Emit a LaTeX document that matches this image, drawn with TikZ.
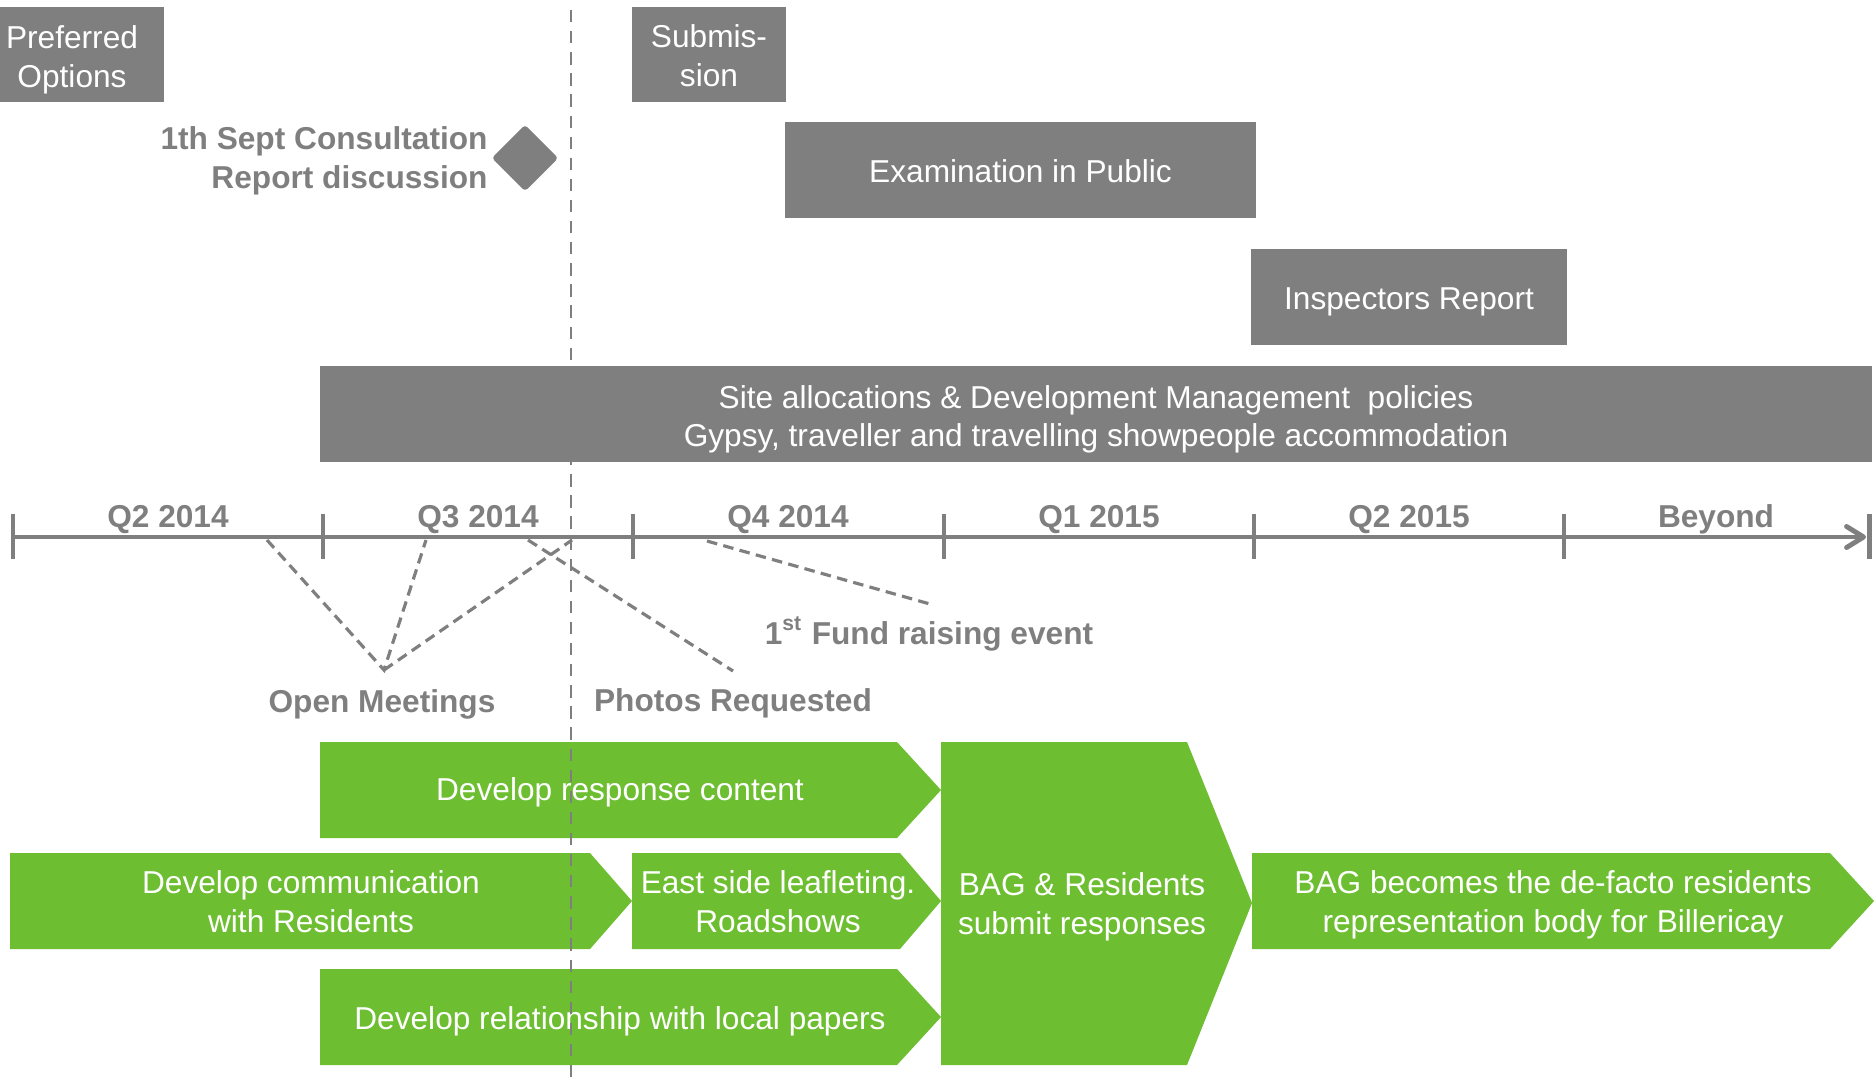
\documentclass[tikz,border=0pt]{standalone}
\usepackage{fontspec}
\setmainfont{Liberation Sans}
\usetikzlibrary{arrows.meta}
\usetikzlibrary{shapes.geometric}

\definecolor{slate}{HTML}{7F7F7F}
\definecolor{leaf}{HTML}{6DBE31}

\begin{document}
\begin{tikzpicture}[x = 0.01cm, y = -0.01cm,
  greybox/.style = {fill = slate, inner sep = 0pt, minimum height = 0.95cm},
  boxtext/.style = {text = white, align = center, font = \fontsize{9}{11}\selectfont},
  greenbar/.style = {fill = leaf},
  greentext/.style = {text = white, align = center, font = \fontsize{9}{11}\selectfont},
  note/.style = {text = slate, align = center, font = \fontsize{9}{11}\selectfont\bfseries},
  milestone/.style = {diamond, fill = slate, inner sep = 0pt, minimum width = 0.67cm,
    minimum height = 0.67cm, rounded corners = 1pt},
  axis/.style = {draw = slate, line width = 1.4pt},
  callout/.style = {draw = slate, line width = 0.9pt, dash pattern = on 3pt off 1.8pt},
  nowline/.style = {draw = slate, line width = 0.6pt, dash pattern = on 3.5pt off 2.5pt}]
\useasboundingbox (0,0) rectangle (1874,1081);

% green work streams
\fill[greenbar] (320,742) -- (897,742) -- (941,790) -- (897,838) -- (320,838) -- cycle;
\node[greentext] (response) at (620,792) {Develop response content};
\fill[greenbar] (10,853) -- (590,853) -- (632,901) -- (590,949) -- (10,949) -- cycle;
\node[greentext] (comms) at (311,902) {Develop communication\\with Residents};
\fill[greenbar] (632,853) -- (900,853) -- (941,901) -- (900,949) -- (632,949) -- cycle;
\node[greentext] (leaflets) at (778,902) {East side leafleting.\\Roadshows};
\fill[greenbar] (320,969) -- (897,969) -- (941,1017) -- (897,1065) -- (320,1065) -- cycle;
\node[greentext] (papers) at (620,1021) {Develop relationship with local papers};
\fill[greenbar] (941,742) -- (1187,742) -- (1252,903) -- (1187,1065) -- (941,1065) -- cycle;
\node[greentext] (submit) at (1082,907) {BAG \& Residents\\submit responses};
\fill[greenbar] (1252,853) -- (1830,853) -- (1874,901) -- (1830,949) -- (1252,949) -- cycle;
\node[greentext] (defacto) at (1553,905) {BAG becomes the de-facto residents\\representation body for Billericay};

% today
\coordinate (now) at (571,10);
\coordinate (nowend) at (571,1081);
\draw[nowline] (now) -- (nowend);

% grey plan stages
\node[greybox, minimum width = 1.84cm] (preferred) at (72,54.5) {};
\node[boxtext, yshift = -1.5pt] (preferredtxt) at (preferred) {Preferred\\Options};
\node[greybox, minimum width = 1.54cm] (submission) at (709,54.5) {};
\node[boxtext, yshift = -0.3pt] (submissiontxt) at (submission) {Submis-\\sion};
\node[greybox, minimum width = 4.71cm] (exam) at (1020.5,170) {};
\node[boxtext, yshift = -0.4pt] (examtxt) at (exam) {Examination in Public};
\node[greybox, minimum width = 3.16cm] (inspector) at (1409,297) {};
\node[boxtext, yshift = -1.5pt] (inspectortxt) at (inspector) {Inspectors Report};
\node[greybox, minimum width = 15.52cm] (sites) at (1096,414) {};
\node[boxtext, yshift = -1.5pt] (sitestxt) at (sites)
  {Site allocations \& Development Management \ policies\\Gypsy, traveller and travelling showpeople accommodation};

\node[milestone] (sept) at (525,158) {};
\node[note, anchor = east, align = right] (septlbl) at (500,161) {1th Sept Consultation\\Report discussion};

% time line
\coordinate (t0) at (12,537);
\coordinate (tend) at (1866,537);
\draw[axis, -{Straight Barb[length = 0.17cm, width = 0.21cm, round]}] (t0) -- (tend);
\foreach \x in {13,323,633,944,1254,1564,1869}
  \draw[axis] (\x,514) -- (\x,559);
\foreach \x/\q [count = \i] in {168/Q2 2014, 478/Q3 2014, 788/Q4 2014, 1099/Q1 2015, 1409/Q2 2015, 1716/Beyond}
  \node[note] (q\i) at (\x,519.5) {\q};

% events
\coordinate (om1) at (267,540);
\coordinate (om2) at (426,540);
\coordinate (om3) at (572,540);
\coordinate (omtip) at (384,670);
\node[note] (meetings) at (382,704) {Open Meetings};
\draw[callout] (om1) -- (omtip) -- (om2);
\draw[callout] (omtip) -- (om3);

\coordinate (ph1) at (528,540);
\coordinate (phtip) at (733,671);
\node[note] (photos) at (733,703) {Photos Requested};
\draw[callout] (ph1) -- (phtip);

\coordinate (fr1) at (707,541);
\coordinate (frtip) at (930,604);
\node[note] (fund) at (929,634) {1\textsuperscript{st} Fund raising event};
\draw[callout] (fr1) -- (frtip);
\end{tikzpicture}
\end{document}
